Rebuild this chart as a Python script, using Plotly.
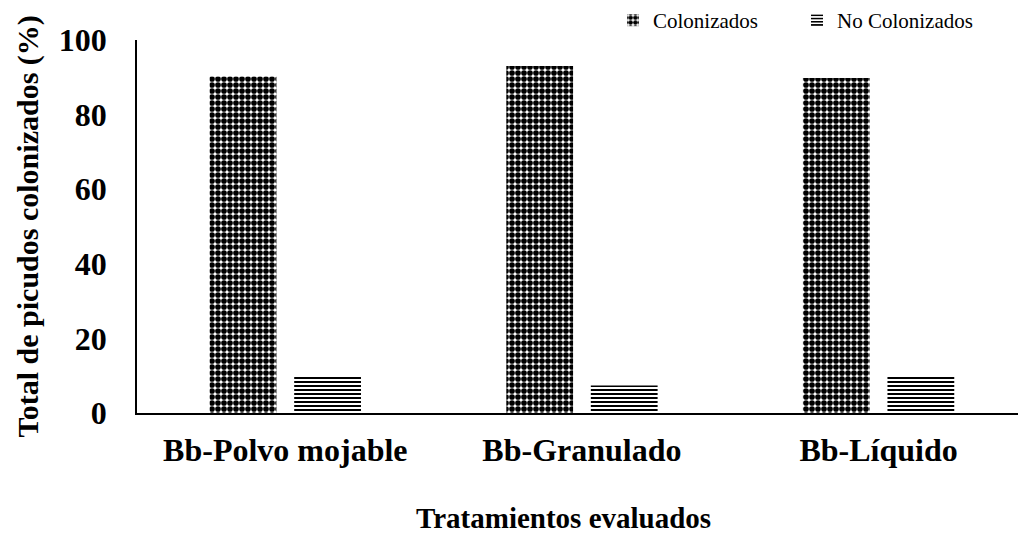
import plotly.graph_objects as go

# Tratamientos y porcentajes de picudos colonizados / no colonizados
tratamientos = ["Bb-Polvo mojable", "Bb-Granulado", "Bb-Líquido"]
colonizados = [90.2, 93.0, 89.8]
no_colonizados = [10.0, 7.4, 10.0]
y_ticks = [0, 20, 40, 60, 80, 100]

SERIF = "Liberation Serif, Times New Roman, serif"

fig = go.Figure()
fig.add_trace(go.Bar(
    name="Colonizados", x=tratamientos, y=colonizados,
    marker=dict(color="white", line=dict(width=0),
                pattern=dict(shape=".", fgcolor="black", bgcolor="white",
                             size=6, solidity=0.7, fillmode="replace")),
))
fig.add_trace(go.Bar(
    name="No Colonizados", x=tratamientos, y=no_colonizados,
    marker=dict(color="white", line=dict(width=0),
                pattern=dict(shape="-", fgcolor="black", bgcolor="white",
                             size=4, solidity=0.5, fillmode="replace")),
))

fig.update_layout(
    width=1018, height=533,
    margin=dict(l=137, r=0, t=40, b=120, autoexpand=False),
    paper_bgcolor="white", plot_bgcolor="white",
    barmode="group", bargap=0.43, bargroupgap=0.21,
    font=dict(family=SERIF, color="black"),
    showlegend=True,
    legend=dict(orientation="h", xref="container", yref="container",
                x=613 / 1018, y=1.0, xanchor="left", yanchor="top",
                font=dict(size=21, family=SERIF), itemwidth=30,
                entrywidth=139, entrywidthmode="pixels",
                bgcolor="rgba(0,0,0,0)", traceorder="normal"),
    xaxis=dict(range=[-0.5, 2.47], showgrid=False, showline=True,
               linecolor="black", linewidth=2, ticks="",
               tickfont=dict(size=32, family=SERIF, weight="bold"),
               ticklabelstandoff=8),
    yaxis=dict(range=[0, 100], tickvals=y_ticks, showgrid=False, zeroline=False,
               showline=True, linecolor="black", linewidth=1.5, ticks="",
               tickfont=dict(size=32, family=SERIF, weight="bold"),
               ticklabelstandoff=22),
    annotations=[
        dict(text="<b>Total de picudos colonizados (%)</b>", textangle=-90,
             xref="paper", yref="paper", x=-137/881 + 27/881, y=0.5,
             xanchor="center", yanchor="middle", showarrow=False,
             font=dict(size=30, family=SERIF)),
        dict(text="<b>Tratamientos evaluados</b>",
             xref="paper", yref="paper", x=(563 - 137) / 881, y=-(518 - 413) / 373,
             xanchor="center", yanchor="middle", showarrow=False,
             font=dict(size=29, family=SERIF)),
    ],
)

fig.write_html("out.html")
